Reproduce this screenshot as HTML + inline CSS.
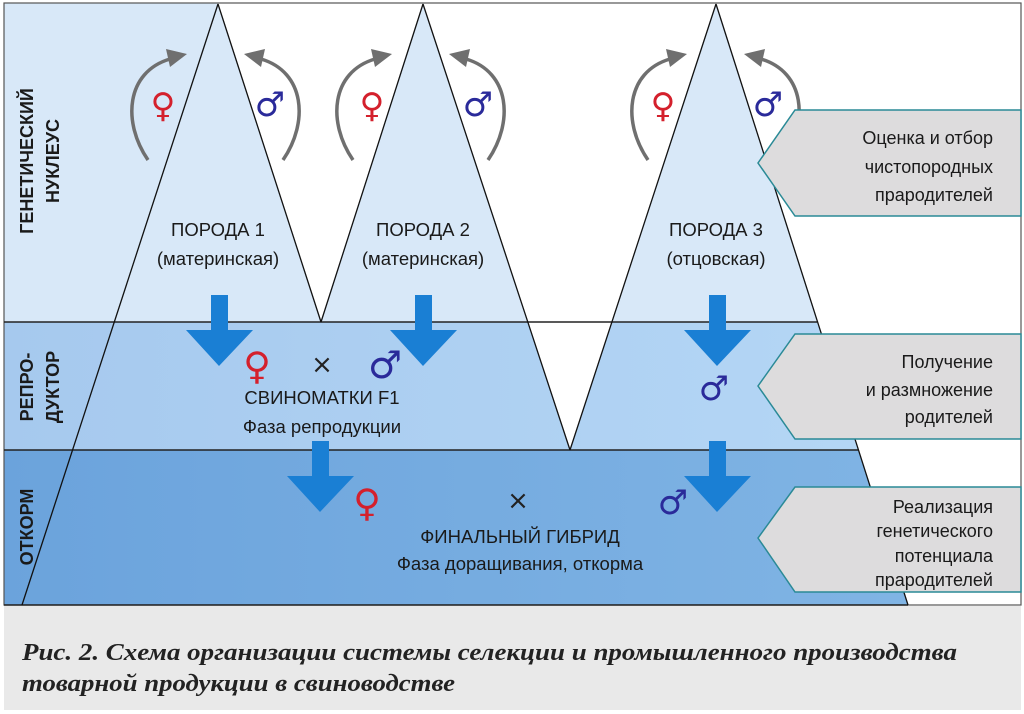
<!DOCTYPE html>
<html><head><meta charset="utf-8"><style>
html,body{margin:0;padding:0;background:#fff;width:1024px;height:714px;overflow:hidden}
svg{display:block}
.t{font-family:"Liberation Sans","DejaVu Sans",sans-serif;fill:#1a1a1a}
</style></head><body>
<svg width="1024" height="714" viewBox="0 0 1024 714" xmlns="http://www.w3.org/2000/svg">
<defs>
<linearGradient id="g2" x1="0" x2="1" y1="0" y2="0"><stop offset="0" stop-color="#a6c9ee"/><stop offset="1" stop-color="#b4d6f5"/></linearGradient>
<linearGradient id="g3" x1="0" x2="1" y1="0" y2="0"><stop offset="0" stop-color="#6ba3dc"/><stop offset="1" stop-color="#80b4e4"/></linearGradient>
<g id="arcs">
<path d="M148,160 C122,122 126,72 170,59" fill="none" stroke="#6f6f6f" stroke-width="3.5"/>
<polygon points="187,54 166,49 170,67" fill="#6f6f6f"/>
<path d="M283,160 C309,122 305,72 261,59" fill="none" stroke="#6f6f6f" stroke-width="3.5"/>
<polygon points="244,54 265,49 261,67" fill="#6f6f6f"/>
</g>
<polygon id="arr" points="-8,0 9,0 9,35 34,35 0,71 -33,35 -8,35" fill="#1a7fd4"/>
</defs>
<rect x="0" y="0" width="1024" height="714" fill="#fff"/>
<rect x="4" y="606" width="1017" height="104" fill="#e9e9e9"/>
<rect x="4" y="3" width="1017" height="319" fill="#d8e8f8"/>
<polygon points="4,322 817,322 858,450 4,450" fill="url(#g2)"/>
<polygon points="4,450 858,450 908,605 4,605" fill="url(#g3)"/>
<polygon points="218,3 423,3 321,322" fill="#fff"/>
<polygon points="423,3 716,3 570,450" fill="#fff"/>
<polygon points="716,3 1021,3 1021,605 908,605" fill="#fff"/>
<rect x="4" y="3" width="1017" height="602" fill="none" stroke="#555" stroke-width="1.2"/>
<line x1="4" y1="322" x2="817" y2="322" stroke="#222" stroke-width="1.5"/>
<line x1="4" y1="450" x2="858" y2="450" stroke="#222" stroke-width="1.5"/>
<line x1="4" y1="605" x2="908" y2="605" stroke="#222" stroke-width="1.5"/>
<g stroke="#111" stroke-width="1.3" fill="none">
<line x1="218" y1="4" x2="22" y2="605"/>
<line x1="218" y1="4" x2="321" y2="322"/>
<line x1="423" y1="4" x2="321" y2="322"/>
<line x1="423" y1="4" x2="570" y2="450"/>
<line x1="716" y1="4" x2="570" y2="450"/>
<line x1="716" y1="4" x2="908" y2="605"/>
</g>
<use href="#arcs"/>
<use href="#arcs" transform="translate(205,0)"/>
<use href="#arcs" transform="translate(500,0)"/>
<g fill="#dddcdd" stroke="#2a8a96" stroke-width="1.5">
<polygon points="1021,110 795,110 758,163 795,216 1021,216"/>
<polygon points="1021,334 795,334 758,386 795,439 1021,439"/>
<polygon points="1021,487 795,487 758,538 795,592 1021,592"/>
</g>
<use href="#arr" transform="translate(219,295)"/>
<use href="#arr" transform="translate(423,295)"/>
<use href="#arr" transform="translate(717,295)"/>
<use href="#arr" transform="translate(320,441)"/>
<use href="#arr" transform="translate(717,441)"/>
<g font-family="'DejaVu Sans',sans-serif" text-anchor="middle">
<text x="163" y="117" font-size="34" fill="#d4202c">♀</text>
<text x="270" y="116" font-size="34" fill="#2a2a9a">♂</text>
<text x="372" y="117" font-size="34" fill="#d4202c">♀</text>
<text x="478" y="116" font-size="34" fill="#2a2a9a">♂</text>
<text x="663" y="117" font-size="34" fill="#d4202c">♀</text>
<text x="768" y="116" font-size="34" fill="#2a2a9a">♂</text>
<text x="257" y="379" font-size="38" fill="#d4202c">♀</text>
<text x="322" y="373" font-size="26" fill="#222">×</text>
<text x="385" y="378" font-size="38" fill="#2a2a9a">♂</text>
<text x="714" y="400" font-size="34" fill="#2a2a9a">♂</text>
<text x="367" y="516" font-size="38" fill="#d4202c">♀</text>
<text x="518" y="509" font-size="26" fill="#222">×</text>
<text x="673" y="514" font-size="34" fill="#2a2a9a">♂</text>
</g>
<g class="t" font-size="18.5" text-anchor="middle">
<text x="218" y="236">ПОРОДА 1</text>
<text x="218" y="265">(материнская)</text>
<text x="423" y="236">ПОРОДА 2</text>
<text x="423" y="265">(материнская)</text>
<text x="716" y="236">ПОРОДА 3</text>
<text x="716" y="265">(отцовская)</text>
<text x="322" y="404">СВИНОМАТКИ F1</text>
<text x="322" y="433">Фаза репродукции</text>
<text x="520" y="543">ФИНАЛЬНЫЙ ГИБРИД</text>
<text x="520" y="570">Фаза доращивания, откорма</text>
</g>
<g class="t" font-size="18" text-anchor="end">
<text x="993" y="144">Оценка и отбор</text>
<text x="993" y="173">чистопородных</text>
<text x="993" y="201">прародителей</text>
<text x="993" y="368">Получение</text>
<text x="993" y="396">и размножение</text>
<text x="993" y="423">родителей</text>
<text x="993" y="513">Реализация</text>
<text x="993" y="537">генетического</text>
<text x="993" y="562">потенциала</text>
<text x="993" y="586">прародителей</text>
</g>
<g class="t" font-size="18" font-weight="bold" text-anchor="middle">
<text transform="translate(33,161) rotate(-90)">ГЕНЕТИЧЕСКИЙ</text>
<text transform="translate(59,161) rotate(-90)">НУКЛЕУС</text>
<text transform="translate(33,387) rotate(-90)">РЕПРО-</text>
<text transform="translate(59,387) rotate(-90)">ДУКТОР</text>
<text transform="translate(33,527) rotate(-90)">ОТКОРМ</text>
</g>
<g font-family="'Liberation Serif',serif" font-style="italic" font-weight="bold" font-size="24" fill="#222">
<text x="22" y="660" textLength="935" lengthAdjust="spacingAndGlyphs">Рис. 2. Схема организации системы селекции и промышленного производства</text>
<text x="22" y="691" textLength="433" lengthAdjust="spacingAndGlyphs">товарной продукции в свиноводстве</text>
</g>
</svg>
</body></html>
